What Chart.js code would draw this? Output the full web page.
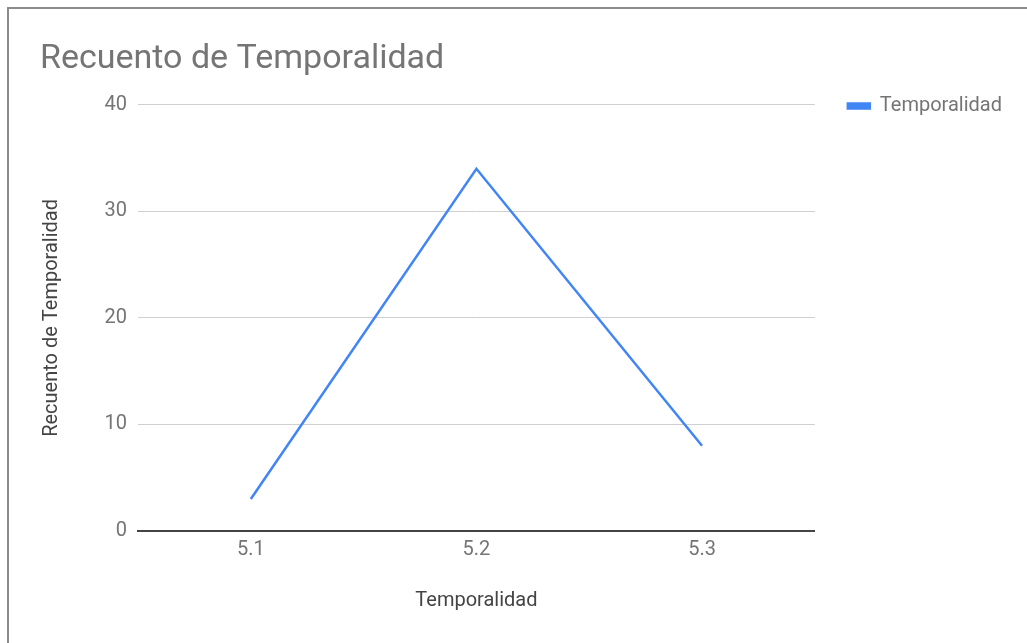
<!DOCTYPE html>
<html>
<head>
<meta charset="utf-8">
<script src="https://cdn.jsdelivr.net/npm/chart.js@4.4.0/dist/chart.umd.min.js"></script>
<style>
  html, body { margin: 0; padding: 0; background: #fff; }
  #wrap { position: absolute; left: 0; top: 0; width: 1027px; height: 643px; }
  #frame { position: absolute; left: 7px; top: 7px; width: 1030px; height: 650px;
           border-top: 2px solid #8c8c8c; border-left: 2px solid #8c8c8c; pointer-events: none; }
</style>
</head>
<body>
<div id="wrap">
  <canvas id="chart" width="1027" height="643"></canvas>
  <div id="frame"></div>
</div>
<script>
const categories = ['5.1', '5.2', '5.3'];
const counts = [3, 34, 8];
const seriesName = 'Temporalidad';
const yTicks = [0, 10, 20, 30, 40];

const grey = '#757575';
Chart.defaults.font.family = 'Roboto, "Noto Sans", sans-serif';

new Chart(document.getElementById('chart'), {
  type: 'line',
  data: {
    labels: categories,
    datasets: [{
      label: seriesName,
      data: counts,
      borderColor: '#4285f4',
      backgroundColor: '#4285f4',
      borderWidth: 2.5,
      pointRadius: 0,
      tension: 0
    }]
  },
  options: {
    responsive: false,
    animation: false,
    layout: { padding: { left: 40, right: 15, top: 30, bottom: 0 } },
    plugins: {
      title: {
        display: true,
        text: 'Recuento de Temporalidad',
        align: 'start',
        color: grey,
        font: { size: 34, weight: 'normal' },
        padding: { top: 9, bottom: 25 }
      },
      legend: {
        position: 'right',
        align: 'start',
        // empty title just pushes the entry down level with the top gridline
        title: { display: true, text: '', font: { size: 10 }, padding: { top: 0, bottom: 21 } },
        labels: {
          boxWidth: 22,
          boxHeight: 5,
          padding: 33,
          color: grey,
          font: { size: 20 }
        }
      },
      tooltip: { enabled: false }
    },
    scales: {
      x: {
        offset: true,
        afterFit: (scale) => { scale.height = 112; },
        grid: { display: false, drawTicks: false },
        border: { color: '#444', width: 2 },
        ticks: { color: grey, font: { size: 20 }, padding: 7 },
        title: {
          display: true,
          text: 'Temporalidad',
          color: '#444',
          font: { size: 20 },
          padding: { top: 27, bottom: 30 }
        }
      },
      y: {
        min: 0,
        max: 40,
        afterBuildTicks: (scale) => { scale.ticks = yTicks.map(v => ({ value: v })); },
        afterFit: (scale) => { scale.width = 98; },
        grid: { color: '#d0d0d0', drawTicks: false },
        border: { display: false },
        ticks: { color: grey, font: { size: 20 }, padding: 11 },
        title: {
          display: true,
          text: 'Recuento de Temporalidad',
          color: '#444',
          font: { size: 20 },
          padding: { top: 0, bottom: 0 }
        }
      }
    }
  }
});
</script>
</body>
</html>
